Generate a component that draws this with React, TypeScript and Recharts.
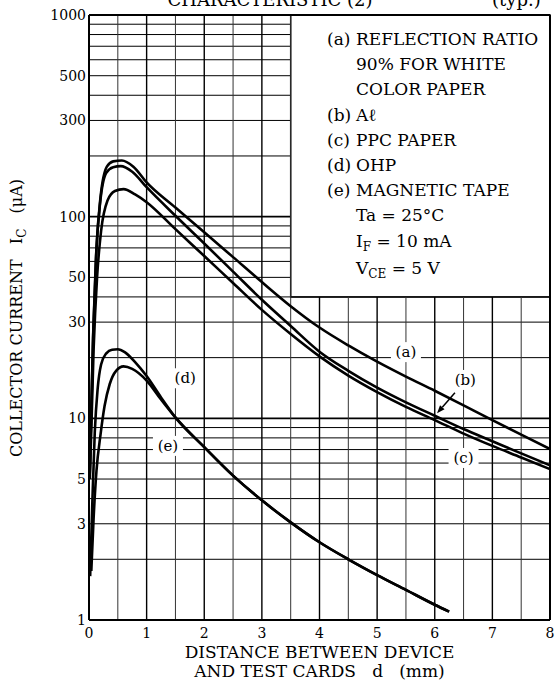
import React from "react";
import { LineChart, Line, XAxis, YAxis, ReferenceLine, ReferenceArea, ReferenceDot } from "recharts";

const FONT = "'DejaVu Serif', serif";

// axes
const xTicks = [0, 1, 2, 3, 4, 5, 6, 7, 8];
const yTicks = [1, 3, 5, 10, 30, 50, 100, 300, 500, 1000];
const gridX = [0.5, 1, 1.5, 2, 2.5, 3, 3.5, 4, 4.5, 5, 5.5, 6, 6.5, 7, 7.5];
const gridY = [2, 3, 4, 5, 6, 7, 8, 9, 10, 20, 30, 40, 50, 60, 70, 80, 90, 100, 200, 300, 400, 500, 600, 700, 800, 900];
const majorY = [10, 100];

// legend box corner (d, Ic)
const boxX = [3.5, 8];
const boxY = [40, 1000];

// (a) reflection ratio 90% white paper
const dA = [0.01, 0.075, 0.13, 0.2, 0.31, 0.42, 0.57, 0.77, 1, 1.5, 2, 2.5, 3, 3.5, 4, 4.5, 5, 5.5, 6, 6.5, 7, 7.5, 8];
const iA = [5, 27, 70, 125, 177, 188, 190, 177, 148, 111, 83.7, 63, 47.4, 36, 28.2, 23, 19.1, 16.1, 13.7, 11.6, 9.8, 8.3, 7.05];
// (b) Al
const dB = [0.01, 0.07, 0.12, 0.19, 0.3, 0.42, 0.55, 0.75, 1, 1.5, 2, 2.5, 3, 3.5, 4, 4.5, 5, 5.5, 6, 6.5, 7, 7.5, 8];
const iB = [5, 25, 62, 115, 165, 176, 178, 167, 140, 101, 73.6, 53.4, 38.7, 28.7, 21.4, 17.2, 14.2, 12, 10.3, 8.85, 7.7, 6.7, 5.85];
// (c) PPC paper
const dC = [0.015, 0.08, 0.14, 0.21, 0.32, 0.45, 0.6, 0.8, 1, 1.5, 2, 2.5, 3, 3.5, 4, 4.5, 5, 5.5, 6, 6.5, 7, 7.5, 8];
const iC = [5, 22, 50, 85, 120, 134, 137, 129, 118, 86.7, 63.8, 46.9, 34.5, 26.2, 20.3, 16.3, 13.5, 11.4, 9.8, 8.4, 7.3, 6.4, 5.6];
// (d) OHP
const dD = [0.02, 0.06, 0.1, 0.15, 0.21, 0.3, 0.4, 0.5, 0.62, 0.8, 1, 1.25];
const iD = [1.65, 4, 8.5, 14, 18.5, 21, 21.9, 22, 21.3, 19, 16.2, 12.7];
// (e) magnetic tape
const dE = [0.04, 0.08, 0.13, 0.2, 0.27, 0.36, 0.47, 0.6, 0.75, 1, 1.25];
const iE = [1.75, 3.2, 5.5, 8.3, 11.5, 14.8, 17.2, 18.1, 17.6, 15.4, 12.4];
// (d) and (e) share one line beyond d = 1.5
const dDE = [1.5, 2, 2.5, 3, 3.5, 4, 4.5, 5, 5.5, 6, 6.25];
const iDE = [10.1, 7.2, 5.2, 3.92, 3.05, 2.43, 2.0, 1.67, 1.41, 1.19, 1.1];

const pts = (d: number[], v: number[]) => d.map((x, i) => ({ x, y: v[i] }));
const series = [
  { key: "a", data: pts(dA, iA) },
  { key: "b", data: pts(dB, iB) },
  { key: "c", data: pts(dC, iC) },
  { key: "d", data: pts([...dD, ...dDE], [...iD, ...iDE]) },
  { key: "e", data: pts([...dE, ...dDE], [...iE, ...iDE]) },
];

// curve tags placed on the plot
const tags = [
  { t: "(a)", x: 5.5, y: 21.3 },
  { t: "(b)", x: 6.53, y: 15.5 },
  { t: "(c)", x: 6.5, y: 6.36 },
  { t: "(d)", x: 1.67, y: 15.8 },
  { t: "(e)", x: 1.37, y: 7.3 },
];
const arrowB = [{ x: 6.35, y: 13.4 }, { x: 6.04, y: 10.6 }];

const legend = [
  ["(a)", "REFLECTION RATIO"],
  ["", "90% FOR WHITE"],
  ["", "COLOR PAPER"],
  ["(b)", "A\u2113"],
  ["(c)", "PPC PAPER"],
  ["(d)", "OHP"],
  ["(e)", "MAGNETIC TAPE"],
];

const Tag = (text: string) => (p: any) => (
  <g>
    <rect x={p.cx - 15} y={p.cy - 10} width={30} height={20} fill="#fff" />
    <text x={p.cx} y={p.cy} textAnchor="middle" dominantBaseline="central" fontFamily={FONT} fontSize={15} fill="#000">
      {text}
    </text>
  </g>
);

const Arrow = (p: any) => {
  const { x1, y1, x2, y2 } = p;
  const a = Math.atan2(y2 - y1, x2 - x1);
  const L = 8;
  const w = 3;
  const bx = x2 - L * Math.cos(a);
  const by = y2 - L * Math.sin(a);
  return (
    <g>
      <line x1={x1} y1={y1} x2={bx} y2={by} stroke="#000" strokeWidth={1.5} />
      <polygon
        points={`${x2},${y2} ${bx + w * Math.sin(a)},${by - w * Math.cos(a)} ${bx - w * Math.sin(a)},${by + w * Math.cos(a)}`}
        fill="#000"
      />
    </g>
  );
};

const sub = { fontSize: 12, position: "relative" as const, top: 4 };

export default function App() {
  const tickStyle = { fontFamily: FONT, fontSize: 14, fill: "#000" };
  return (
    <div style={{ position: "absolute", left: 0, top: 0, width: 557, height: 684, overflow: "hidden", background: "#fff", fontFamily: FONT, color: "#000" }}>
      <LineChart width={557} height={684} margin={{ top: 15, right: 7, bottom: 0, left: 0 }}>
        <XAxis
          type="number"
          dataKey="x"
          domain={[0, 8]}
          ticks={xTicks}
          height={64}
          tickLine={false}
          tickSize={6}
          tickMargin={2}
          axisLine={{ stroke: "#000", strokeWidth: 2 }}
          tick={tickStyle}
          allowDataOverflow
        />
        <YAxis
          type="number"
          scale="log"
          domain={[1, 1000]}
          ticks={yTicks}
          width={89}
          tickLine={false}
          tickSize={0}
          tickMargin={3}
          axisLine={{ stroke: "#000", strokeWidth: 2 }}
          tick={tickStyle}
          allowDataOverflow
        />
        {gridY.map((v) => (
          <ReferenceLine
            key={"h" + v}
            segment={[{ x: 0, y: v }, { x: v > boxY[0] ? boxX[0] : 8, y: v }]}
            stroke="#000"
            strokeWidth={majorY.includes(v) ? 1.6 : 1}
          />
        ))}
        {gridX.map((v) => (
          <ReferenceLine
            key={"v" + v}
            segment={[{ x: v, y: 1 }, { x: v, y: v > boxX[0] ? boxY[0] : 1000 }]}
            stroke={Number.isInteger(v) ? "#000" : "#333"}
            strokeWidth={Number.isInteger(v) ? 1.4 : 1}
          />
        ))}
        <ReferenceLine y={1000} stroke="#000" strokeWidth={2} />
        <ReferenceLine x={8} stroke="#000" strokeWidth={2} />
        <ReferenceArea x1={boxX[0]} x2={boxX[1]} y1={boxY[0]} y2={boxY[1]} fill="none" stroke="#000" strokeWidth={1.5} />
        {series.map((s) => (
          <Line
            key={s.key}
            data={s.data}
            dataKey="y"
            type="monotone"
            stroke="#000"
            strokeWidth={2.6}
            dot={false}
            isAnimationActive={false}
          />
        ))}
        <ReferenceLine segment={arrowB} shape={Arrow} />
        {tags.map((t) => (
          <ReferenceDot key={t.t} x={t.x} y={t.y} r={0} shape={Tag(t.t)} />
        ))}
      </LineChart>

      {/* title, cut off at the top as in the source */}
      <div style={{ position: "absolute", left: 120, top: -9, width: 300, textAlign: "center", fontSize: 18, lineHeight: "18px", whiteSpace: "pre" }}>
        CHARACTERISTIC (2)
      </div>
      <div style={{ position: "absolute", left: 492, top: -9, fontSize: 18, lineHeight: "18px" }}>(typ.)</div>

      {/* legend inside the box */}
      <div style={{ position: "absolute", left: 327, top: 27, fontSize: 17, lineHeight: "25.2px", whiteSpace: "pre" }}>
        {legend.map(([t, s], i) => (
          <div key={i}>
            <span style={{ display: "inline-block", width: 29 }}>{t}</span>
            {s}
          </div>
        ))}
        <div>
          <span style={{ display: "inline-block", width: 29 }} />
          Ta = 25°C
        </div>
        <div>
          <span style={{ display: "inline-block", width: 29 }} />
          I<span style={sub}>F</span> = 10 mA
        </div>
        <div>
          <span style={{ display: "inline-block", width: 29 }} />
          V<span style={sub}>CE</span> = 5 V
        </div>
      </div>

      {/* y axis title */}
      <div
        style={{
          position: "absolute",
          left: 17 - 170,
          top: 318 - 10,
          width: 340,
          height: 20,
          lineHeight: "20px",
          textAlign: "center",
          fontSize: 16,
          whiteSpace: "pre",
          transform: "rotate(-90deg)",
        }}
      >
        COLLECTOR CURRENT   I<span style={sub}>C</span>   (μA)
      </div>

      {/* x axis title */}
      <div style={{ position: "absolute", left: 89, top: 643, width: 461, textAlign: "center", fontSize: 17, lineHeight: "19px", whiteSpace: "pre" }}>
        <div>DISTANCE BETWEEN DEVICE</div>
        <div>AND TEST CARDS   d   (mm)</div>
      </div>
    </div>
  );
}
